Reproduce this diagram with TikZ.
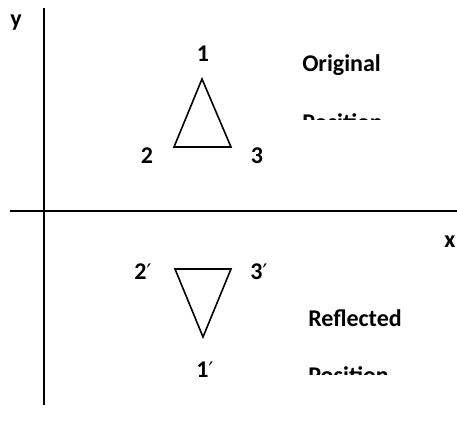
\documentclass[tikz,border=0pt]{standalone}
\usepackage{fontspec}
\setmainfont{Carlito}
\newfontfamily\primefont{DejaVu Sans}
\newcommand{\prm}{{\primefont\mdseries\fontsize{16}{18}\selectfont ′}}

\begin{document}
\begin{tikzpicture}[x=0.75pt, y=-0.75pt,
    lbl/.style={font=\fontsize{18}{20}\selectfont\bfseries, inner sep=0pt, anchor=base},
    txt/.style={lbl, anchor=base west}]
    \useasboundingbox (0,0) rectangle (457,434);

    % Axes
    \coordinate (ytop) at (44,8);
    \coordinate (ybot) at (44,405);
    \coordinate (xleft) at (10,211);
    \coordinate (xright) at (457,211);
    \draw[line width=1.2pt] (ytop) -- (ybot);
    \draw[line width=1.2pt] (xleft) -- (xright);
    \node[lbl] (ylab) at (16,27) {y};
    \node[lbl] (xlab) at (450,248) {x};

    % Original triangle
    \coordinate (p1) at (202,79);
    \coordinate (p2) at (174,147);
    \coordinate (p3) at (231,147);
    \draw[line width=1.2pt] (p1) -- (p2) -- (p3) -- cycle;
    \node[lbl] (n1) at (203,62) {1};
    \node[lbl] (n2) at (147,164) {2};
    \node[lbl] (n3) at (257,164) {3};

    % Reflected triangle
    \coordinate (q1) at (203,337);
    \coordinate (q2) at (175,269);
    \coordinate (q3) at (231,269);
    \draw[line width=1.2pt] (q1) -- (q2) -- (q3) -- cycle;
    \node[lbl] (m1) at (205,378) {1\prm};
    \node[lbl] (m2) at (143,280) {2\prm};
    \node[lbl] (m3) at (259,280) {3\prm};

    % Captions
    \node[txt] (orig) at (302,72) {Original};
    \node[txt] (refl) at (308,327) {Reflected};
    \begin{scope}
        \clip (290,100) rectangle (440,120);
        \node[txt] (origpos) at (302,131) {Position};
    \end{scope}
    \begin{scope}
        \clip (290,355) rectangle (440,375);
        \node[txt] (reflpos) at (308,384) {Position};
    \end{scope}
\end{tikzpicture}
\end{document}
